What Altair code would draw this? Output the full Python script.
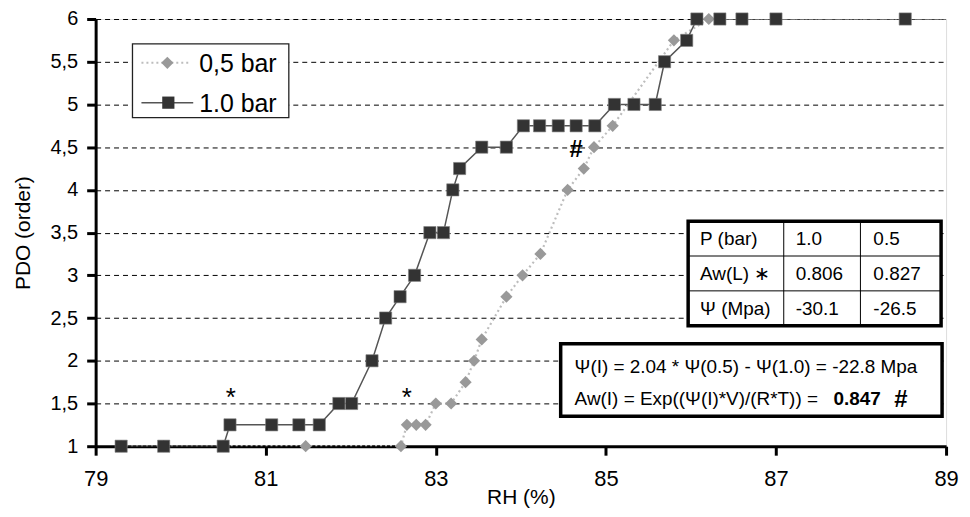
import altair as alt
import pandas as pd

# ---- data ----
rh_10 = [79.3, 79.8, 80.5, 80.58, 81.07, 81.39, 81.63, 81.86, 82.01, 82.25, 82.41, 82.58,
         82.75, 82.93, 83.09, 83.2, 83.28, 83.54, 83.83, 84.03, 84.22, 84.44, 84.65, 84.87,
         85.1, 85.33, 85.58, 85.69, 85.95, 86.07, 86.34, 86.6, 87.0, 88.52]
pdo_10 = [1, 1, 1, 1.25, 1.25, 1.25, 1.25, 1.5, 1.5, 2, 2.5, 2.75,
          3, 3.5, 3.5, 4, 4.25, 4.5, 4.5, 4.75, 4.75, 4.75, 4.75, 4.75,
          5, 5, 5, 5.5, 5.75, 6, 6, 6, 6, 6]

rh_05 = [79.3, 79.8, 80.5, 81.47, 82.59, 82.66, 82.77, 82.88, 83.0, 83.18, 83.35, 83.45,
         83.54, 83.83, 84.02, 84.23, 84.55, 84.74, 84.86, 85.08, 85.8, 86.21, 86.34, 86.6,
         87.0, 88.52]
pdo_05 = [1, 1, 1, 1, 1, 1.25, 1.25, 1.25, 1.5, 1.5, 1.75, 2,
          2.25, 2.75, 3, 3.25, 4, 4.25, 4.5, 4.75, 5.75, 6, 6, 6,
          6, 6]

# lines continue to the right edge of the plot
line_end_rh = [89.2]
line_end_pdo = [6]

series_labels = ["0,5 bar", "1.0 bar"]
x_ticks = [79, 81, 83, 85, 87, 89]
y_ticks = [1, 1.5, 2, 2.5, 3, 3.5, 4, 4.5, 5, 5.5, 6]

star_rh = [80.59, 82.66]
star_pdo = [1.6, 1.6]
hash_rh = [84.65]
hash_pdo = [4.47]

table_rows = [["P (bar)", "1.0", "0.5"],
              ["Aw(L) \u2217", "0.806", "0.827"],
              ["\u03a8 (Mpa)", "-30.1", "-26.5"]]
formula_1 = "\u03a8(I) = 2.04 * \u03a8(0.5) - \u03a8(1.0) = -22.8 Mpa"
formula_2 = "Aw(I) = Exp((\u03a8(I)*V)/(R*T)) = "
formula_val = "0.847"

FONT = "Liberation Sans"

df10 = pd.DataFrame({"RH": rh_10, "PDO": pdo_10})
df05 = pd.DataFrame({"RH": rh_05, "PDO": pdo_05})
df10_line = pd.DataFrame({"RH": rh_10 + line_end_rh, "PDO": pdo_10 + line_end_pdo})
df05_line = pd.DataFrame({"RH": rh_05 + line_end_rh, "PDO": pdo_05 + line_end_pdo})
df_star = pd.DataFrame({"RH": star_rh, "PDO": star_pdo, "t": ["*", "*"]})
df_hash = pd.DataFrame({"RH": hash_rh, "PDO": hash_pdo, "t": ["#"]})

xscale = alt.Scale(domain=[79, 89], nice=False, zero=False)
yscale = alt.Scale(domain=[1, 6], nice=False, zero=False)

x_enc = alt.X("RH:Q", scale=xscale,
              axis=alt.Axis(values=x_ticks, title="RH (%)", grid=False, format="d",
                            domainColor="black", domainWidth=3,
                            tickColor="black", tickWidth=3, tickSize=9,
                            labelFont=FONT, labelFontSize=22, labelColor="black",
                            labelPadding=13, labelFlush=False,
                            titleFont=FONT, titleFontSize=21, titleFontWeight="normal",
                            titleColor="black", titlePadding=-2))
y_enc = alt.Y("PDO:Q", scale=yscale,
              axis=alt.Axis(values=y_ticks, title="PDO (order)", grid=True,
                            gridColor="black", gridDash=[5, 4], gridWidth=1,
                            domainColor="black", domainWidth=3,
                            tickColor="black", tickWidth=3, tickSize=9,
                            labelFont=FONT, labelFontSize=20, labelColor="black",
                            labelPadding=9, labelFlush=False,
                            labelExpr="replace(format(datum.value, '.1~f'), '.', ',')",
                            titleFont=FONT, titleFontSize=21, titleFontWeight="normal",
                            titleColor="black", titlePadding=17))

base_grid = alt.Chart(df10).mark_point(opacity=0).encode(x=x_enc, y=y_enc)

line05 = alt.Chart(df05_line).mark_line(color="#bdbdbd", strokeWidth=2.2, strokeDash=[2, 3], clip=True).encode(
    x=alt.X("RH:Q", scale=xscale), y=alt.Y("PDO:Q", scale=yscale))
pts05 = alt.Chart(df05).mark_point(shape="diamond", filled=True, color="#999999", size=150, opacity=1).encode(
    x=alt.X("RH:Q", scale=xscale), y=alt.Y("PDO:Q", scale=yscale))
line10 = alt.Chart(df10_line).mark_line(color="#555555", strokeWidth=1.5, clip=True).encode(
    x=alt.X("RH:Q", scale=xscale), y=alt.Y("PDO:Q", scale=yscale))
pts10 = alt.Chart(df10).mark_point(shape="square", filled=True, color="#333333", size=150, opacity=1,
                                   stroke="#808080", strokeWidth=0.6).encode(
    x=alt.X("RH:Q", scale=xscale), y=alt.Y("PDO:Q", scale=yscale))

stars = alt.Chart(df_star).mark_text(font=FONT, fontSize=26, color="black", baseline="middle", dy=3).encode(
    x=alt.X("RH:Q", scale=xscale), y=alt.Y("PDO:Q", scale=yscale), text="t:N")
hashes = alt.Chart(df_hash).mark_text(font=FONT, fontSize=24, fontWeight="bold", color="black", baseline="middle").encode(
    x=alt.X("RH:Q", scale=xscale), y=alt.Y("PDO:Q", scale=yscale), text="t:N")

one = pd.DataFrame({"k": [0]})
layers = [base_grid, line05, line10, pts05, pts10, stars, hashes]


def rect(x, y, x2, y2, sw, stroke="black"):
    return alt.Chart(one).mark_rect(fill="white", stroke=stroke, strokeWidth=sw).encode(
        x=alt.value(x), y=alt.value(y), x2=alt.value(x2), y2=alt.value(y2))


def rule(x, y, x2, y2, sw=1, color="black", dash=None):
    kw = dict(color=color, strokeWidth=sw)
    if dash:
        kw["strokeDash"] = dash
    return alt.Chart(one).mark_rule(**kw).encode(
        x=alt.value(x), y=alt.value(y), x2=alt.value(x2), y2=alt.value(y2))


def text(s, x, y, size, weight="normal", align="left"):
    return alt.Chart(one).mark_text(font=FONT, fontSize=size, fontWeight=weight, align=align,
                                    baseline="middle", color="black").encode(
        x=alt.value(x), y=alt.value(y), text=alt.value(s))


# ---- legend box (plot-area pixel offsets) ----
layers += [
    rect(37, 25, 194, 99, 1.3, stroke="#222222"),
    rule(46, 44, 96, 44, 2, "#bdbdbd", [2, 3]),
    alt.Chart(one).mark_point(shape="diamond", filled=True, color="#999999", size=150, opacity=1).encode(
        x=alt.value(72), y=alt.value(44)),
    text(series_labels[0], 104, 45, 25),
    rule(46, 84, 98, 84, 1.5, "#555555"),
    alt.Chart(one).mark_point(shape="square", filled=True, color="#333333", size=150, opacity=1).encode(
        x=alt.value(73), y=alt.value(84)),
    text(series_labels[1], 104, 85, 25),
]

# ---- parameter table ----
tx0, tx1, tx2, tx3 = 595, 691, 768, 849
ty0, ty1, ty2, ty3 = 203, 238, 273, 308
layers += [
    rect(tx0, ty0, tx3, ty3, 3.5),
    rule(tx1, ty0, tx1, ty3), rule(tx2, ty0, tx2, ty3),
    rule(tx0, ty1, tx3, ty1), rule(tx0, ty2, tx3, ty2),
]
col_x = [607, 703, 781]
row_y = [221, 256, 291]
for r, row in enumerate(table_rows):
    for c, s in enumerate(row):
        layers.append(text(s, col_x[c], row_y[r], 19))

# ---- formula box ----
layers += [
    rect(467, 326, 850, 399, 3.5),
    text(formula_1, 481, 349, 19),
    text(formula_2, 481, 382, 19),
    text(formula_val, 741, 382, 19, weight="bold"),
    text("#", 802, 383, 24, weight="bold"),
]

chart = alt.layer(*layers).properties(
    width=854, height=429,
    padding={"left": 88, "top": 10, "right": 16, "bottom": 62},
    autosize=alt.AutoSizeParams(type="none"),
).configure_view(stroke=None).configure(background="white")

chart.save("out.html", embed_options={"renderer": "svg", "actions": False})
